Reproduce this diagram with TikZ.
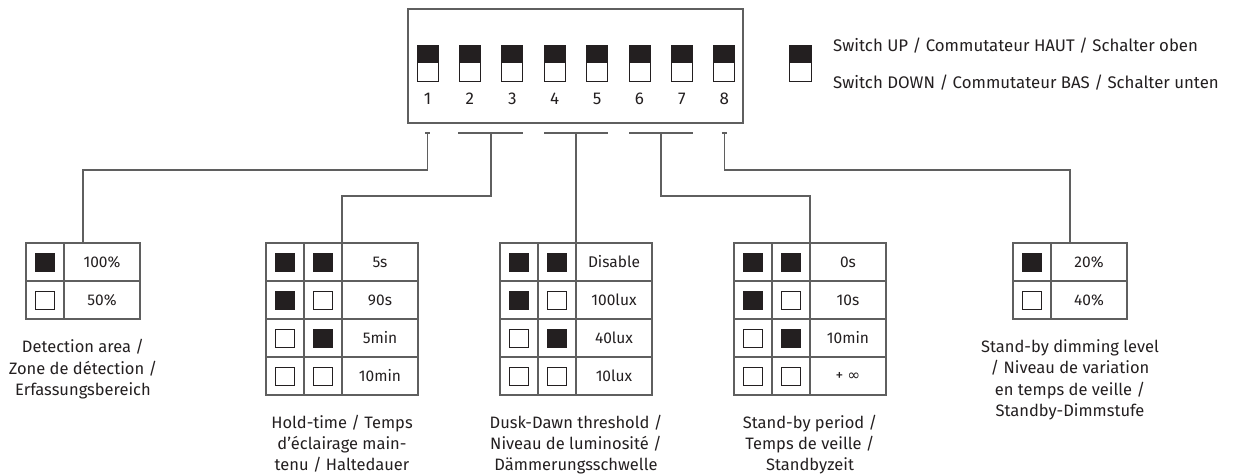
\documentclass[tikz,border=0pt]{standalone}
\usepackage{fontspec}
\setmainfont{Fira Sans}
\newfontfamily\symfont{DejaVu Sans}
\usetikzlibrary{calc}
\definecolor{ln}{RGB}{95,95,95}
\definecolor{ink}{RGB}{35,31,32}
\tikzset{
  conn/.style={draw=ln, line width=1.1pt},
  dipbox/.style={draw=ln, line width=1.1pt, minimum width=335pt, minimum height=114pt, inner sep=0pt},
  swbox/.style={draw=ink, line width=0.9pt, fill=white, minimum width=21pt, minimum height=36pt, inner sep=0pt,
    path picture={\fill[ink] (path picture bounding box.north west) rectangle (path picture bounding box.east);}},
  cell/.style={draw=ln, line width=1.1pt, minimum width=38pt, minimum height=38pt, inner sep=0pt, outer sep=0pt,
    text=ink, font=\fontsize{15.5}{17}\selectfont},
  sq/.style={draw=ink, line width=0.9pt, minimum width=19pt, minimum height=18pt, inner sep=0pt},
  lbl/.style={text=ink, align=center, inner sep=0pt, font=\fontsize{16.5}{21.5}\selectfont},
  lowlbl/.style={text=ink, align=center, inner sep=0pt, font=\fontsize{16.5}{21}\selectfont},
  leglbl/.style={text=ink, inner sep=0pt, font=\fontsize{16.8}{20}\selectfont},
  num/.style={text=ink, inner sep=0pt, font=\fontsize{17}{19}\selectfont},
}
\newcommand\fourtable[6]{%
  \foreach \r/\fa/\fb/\txt in {0/ink/ink/{#3},1/ink/white/{#4},2/white/ink/{#5},3/white/white/{#6}}{%
    \node[cell] (#1-\r-a) at (#2+19, 262+38*\r) {};
    \node[sq, fill=\fa] (#1-\r-as) at (#1-\r-a) {};
    \node[cell] (#1-\r-b) at (#2+57, 262+38*\r) {};
    \node[sq, fill=\fb] (#1-\r-bs) at (#1-\r-b) {};
    \node[cell, minimum width=76pt] (#1-\r-c) at (#2+114, 262+38*\r) {\txt};
  }}
\newcommand\twotable[4]{%
  \foreach \r/\fa/\txt in {0/ink/{#3},1/white/{#4}}{%
    \node[cell] (#1-\r-a) at (#2+19, 262+38*\r) {};
    \node[sq, fill=\fa] (#1-\r-as) at (#1-\r-a) {};
    \node[cell, minimum width=76pt] (#1-\r-c) at (#2+76, 262+38*\r) {\txt};
  }}
\begin{document}
\begin{tikzpicture}[x=1pt,y=-1pt]
\useasboundingbox (0,0) rectangle (1234,475);
% DIP switch block
\node[dipbox] (dip) at (575.5,66) {};
\foreach \i in {1,...,8}{
  \node[swbox] (s\i) at ({427.5+42.4*(\i-1)},63) {};
  \node[num] (n\i) at ({427.5+42.4*(\i-1)},99) {\i};
}
% legend
\node[swbox, minimum width=22pt] (leg) at (800,63) {};
\node[leglbl, anchor=west] (legup) at (833,46) {Switch UP / Commutateur HAUT / Schalter oben};
\node[leglbl, anchor=west] (legdn) at (833,83) {Switch DOWN / Commutateur BAS / Schalter unten};
% tables
\twotable{t1}{26}{100\%}{50\%}
\fourtable{t2}{266}{5s}{90s}{5min}{10min}
\fourtable{t3}{500}{Disable}{100lux}{40lux}{10lux}
\fourtable{t4}{734}{0s}{10s}{10min}{+ {\symfont ∞}}
\twotable{t5}{1013}{20\%}{40\%}
% labels
\node[lbl, anchor=north] (l1) at (83,339) {Detection area /\\Zone de détection /\\Erfassungsbereich};
\node[lowlbl, anchor=north] (l2) at (342,415) {Hold-time / Temps\\d'éclairage main-\\tenu / Haltedauer};
\node[lowlbl, anchor=north] (l3) at (576,415) {Dusk-Dawn threshold /\\Niveau de luminosité /\\Dämmerungsschwelle};
\node[lowlbl, anchor=north] (l4) at (810,415) {Stand-by period /\\Temps de veille /\\Standbyzeit};
\node[lbl, anchor=north] (l5) at (1070,339) {Stand-by dimming level\\/ Niveau de variation\\en temps de veille /\\Standby-Dimmstufe};
% connectors
\coordinate (k1) at (427.5,133);
\coordinate (k8) at (724.3,133);
\coordinate (b23l) at (458,133); \coordinate (b23r) at (523,133); \coordinate (k23) at (491,133);
\coordinate (b45l) at (544,133); \coordinate (b45r) at (608,133); \coordinate (k45) at (576,133);
\coordinate (b67l) at (629,133); \coordinate (b67r) at (693,133); \coordinate (k67) at (661,133);
\draw[conn] ([xshift=-2.5pt]k1) -- ([xshift=2.5pt]k1);
\draw[conn] ([xshift=-2.5pt]k8) -- ([xshift=2.5pt]k8);
\draw[conn] (b23l) -- (b23r);
\draw[conn] (b45l) -- (b45r);
\draw[conn] (b67l) -- (b67r);
\coordinate (t1top) at ($(t1-0-a.north west)!0.5!(t1-0-c.north east)$);
\coordinate (t5top) at ($(t5-0-a.north west)!0.5!(t5-0-c.north east)$);
\draw[conn] (k1) -- (k1 |- 0,170) -- (t1top |- 0,170) -- (t1top);
\draw[conn] (k23) -- (k23 |- 0,196) -- (t2-0-b.north east |- 0,196) -- (t2-0-b.north east);
\draw[conn] (k45) -- (t3-0-b.north east);
\draw[conn] (k67) -- (k67 |- 0,196) -- (t4-0-b.north east |- 0,196) -- (t4-0-b.north east);
\draw[conn] (k8) -- (k8 |- 0,170) -- (t5top |- 0,170) -- (t5top);
\end{tikzpicture}
\end{document}
